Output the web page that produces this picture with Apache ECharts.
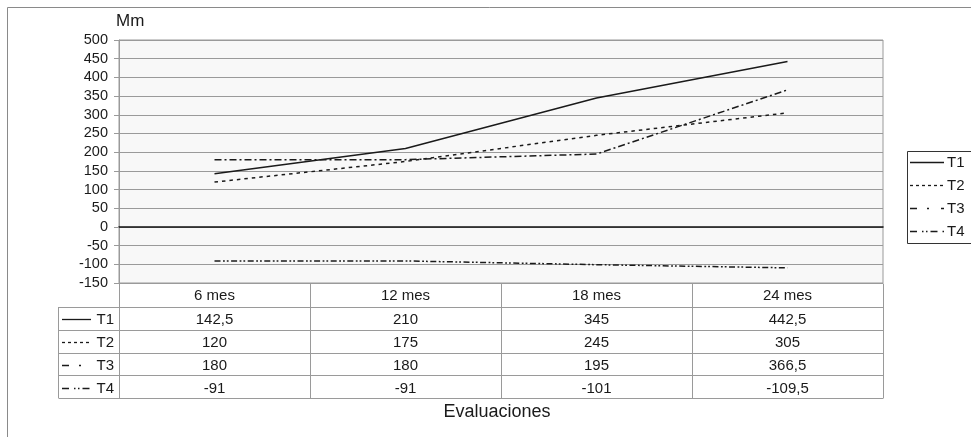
<!DOCTYPE html>
<html>
<head>
<meta charset="utf-8">
<script src="https://cdn.jsdelivr.net/npm/echarts@6/dist/echarts.min.js"></script>
<style>
  html, body { margin: 0; padding: 0; background: #fff; }
  #chart { width: 971px; height: 437px; }
</style>
</head>
<body>
<div id="chart"></div>
<script>
// Evaluation periods and the four treatment series (Mm)
const categories = ['6 mes', '12 mes', '18 mes', '24 mes'];
const seriesNames = ['T1', 'T2', 'T3', 'T4'];
const T1 = [142.5, 210, 345, 442.5];
const T2 = [120, 175, 245, 305];
const T3 = [180, 180, 195, 366.5];
const T4 = [-91, -91, -101, -109.5];
const seriesValues = [T1, T2, T3, T4];

// Line dash patterns used in the plot, and the wider ones used for the keys
const dashes = [null, [3.5, 4], [7, 3, 2, 3], [6, 2.5, 1.8, 2, 1.8, 2.5]];
const keyDashes = [null, [3, 3], [7, 10, 2, 12], [7, 5, 1.5, 2.5, 1.5, 3]];

const FONT = '"Liberation Sans", Arial, Helvetica, sans-serif';
const INK = '#1a1a1a';
const GRID_GRAY = '#9a9a9a';

const chart = echarts.init(document.getElementById('chart'), null, { renderer: 'canvas' });

const series = seriesNames.map((name, i) => ({
  name: name,
  type: 'line',
  data: seriesValues[i],
  symbol: 'none',
  showSymbol: false,
  silent: true,
  animation: false,
  lineStyle: { color: INK, width: 1.5, type: dashes[i] ? dashes[i] : 'solid' },
  itemStyle: { color: INK }
}));

chart.setOption({
  animation: false,
  textStyle: { fontFamily: FONT },
  grid: {
    left: 119, right: 88, top: 40, bottom: 154,
    show: true, backgroundColor: '#f8f8f8', borderColor: GRID_GRAY, borderWidth: 1
  },
  xAxis: {
    type: 'category',
    data: categories,
    boundaryGap: true,
    axisLine: { show: true, onZero: true, lineStyle: { color: '#111', width: 1.5 } },
    axisTick: { show: false },
    axisLabel: { show: false },
    splitLine: { show: false }
  },
  yAxis: {
    type: 'value',
    min: -150, max: 500, interval: 50,
    name: 'Mm',
    nameLocation: 'end',
    nameGap: 10,
    nameTextStyle: { fontFamily: FONT, fontSize: 17, color: INK, align: 'left', padding: [0, 0, 0, -3] },
    axisLine: { show: true, lineStyle: { color: GRID_GRAY } },
    axisTick: { show: true, length: 5, lineStyle: { color: GRID_GRAY } },
    axisLabel: { fontFamily: FONT, fontSize: 14.5, color: INK, margin: 11 },
    splitLine: { show: true, lineStyle: { color: GRID_GRAY, width: 1 } }
  },
  series: series
});

function fmt(v) { return String(v).replace('.', ','); }

// Data table under the plot, legend box and frame
function buildExtras() {
  const centers = categories.map((c, i) => chart.convertToPixel({ xAxisIndex: 0 }, i));
  const band = centers.length > 1 ? centers[1] - centers[0] : 191;
  const xL = Math.round(centers[0] - band / 2) + 0.5;
  const xR = Math.round(centers[centers.length - 1] + band / 2) + 0.5;
  const labelL = 58.5;
  const top = 283.5;
  const headerBottom = 307;
  const rowH = 22.75;
  const bottom = headerBottom + rowH * seriesNames.length;

  const els = [];
  const line = (x1, y1, x2, y2, color, width, dash) => {
    const style = { stroke: color || GRID_GRAY, lineWidth: width || 1 };
    if (dash) style.lineDash = dash;
    els.push({ type: 'line', silent: true, shape: { x1, y1, x2, y2 }, style });
  };
  const txt = (x, y, s, align, size) => els.push({
    type: 'text', silent: true, x, y,
    style: { text: s, fill: INK, font: (size || 15) + 'px ' + FONT, align: align || 'center', verticalAlign: 'middle' }
  });

  // outer frame of the chart area
  line(7.5, 7.5, 971, 7.5, '#8a8a8a');
  line(7.5, 7.5, 7.5, 437, '#8a8a8a');

  // table grid
  line(xL, top, xL, bottom);
  line(xR, top, xR, bottom);
  for (let i = 1; i < centers.length; i++) {
    const x = Math.round(centers[i] - band / 2) + 0.5;
    line(x, top, x, bottom);
  }
  line(labelL, headerBottom, labelL, bottom);
  for (let r = 0; r <= seriesNames.length; r++) {
    const y = Math.round(headerBottom + rowH * r) + 0.5;
    line(labelL, y, xR, y);
  }

  // header row
  categories.forEach((c, i) => txt(centers[i], (top + headerBottom) / 2 + 1, c));

  // value rows with line keys
  seriesNames.forEach((name, r) => {
    const yc = Math.round(headerBottom + rowH * r + rowH / 2 + 1) + 0.5;
    line(62, yc, 91, yc, INK, 1.3, keyDashes[r]);
    txt(114, yc, name, 'right');
    seriesValues[r].forEach((v, i) => txt(centers[i], yc, fmt(v)));
  });

  // legend box
  els.push({
    type: 'rect', silent: true,
    shape: { x: 907.5, y: 151.5, width: 80, height: 92 },
    style: { fill: '#fff', stroke: '#333', lineWidth: 1 }
  });
  seriesNames.forEach((name, r) => {
    const yc = 162.5 + 23 * r;
    line(910, yc, 944, yc, INK, 1.3, keyDashes[r]);
    txt(947, yc, name, 'left');
  });

  // axis title below table
  txt(497, 412, 'Evaluaciones', 'center', 18);

  chart.setOption({ graphic: { elements: els } });
}

buildExtras();
</script>
</body>
</html>
